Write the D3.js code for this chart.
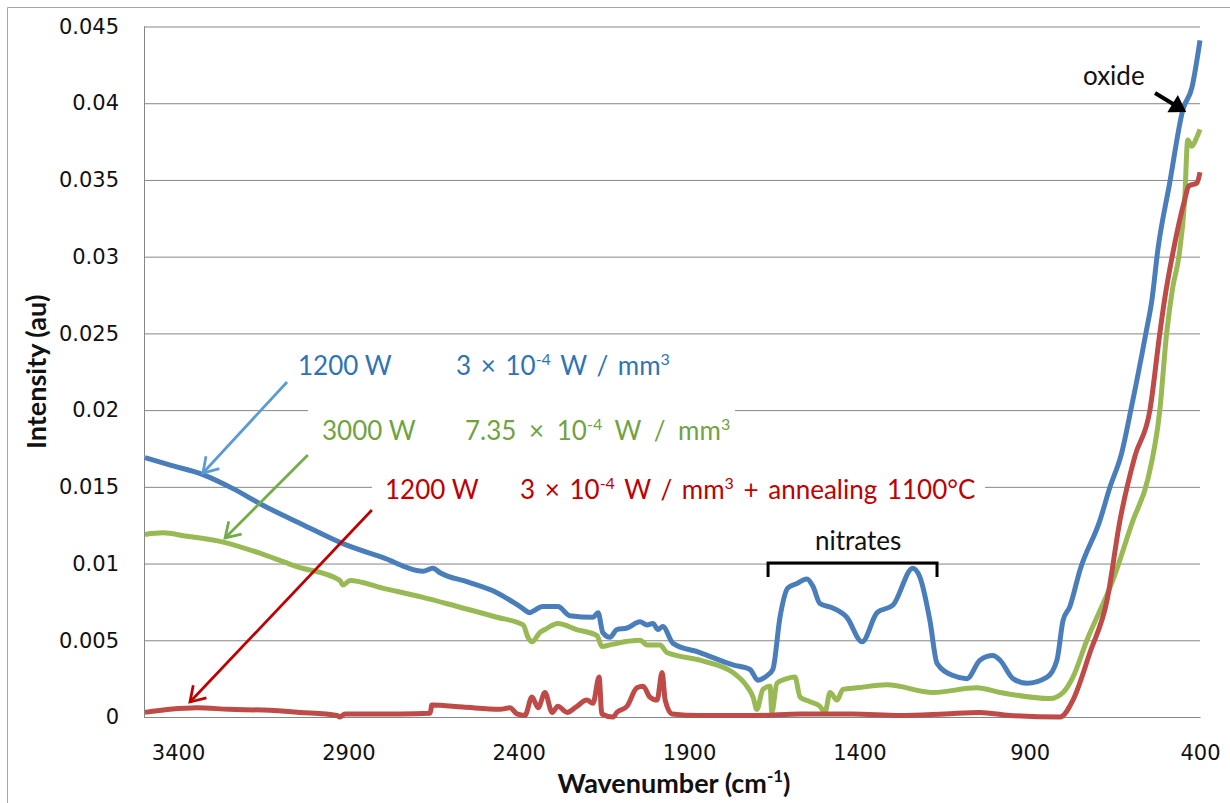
<!DOCTYPE html>
<html lang="en">
<head>
<meta charset="UTF-8">
<title>FTIR spectra</title>
<style>
  body { margin: 0; background: #fff; }
  svg { display: block; }
</style>
</head>
<body>
<script src="https://d3js.org/d3.v7.min.js"></script>
<script>
// ---- data (wavenumber cm-1, intensity au) ----
var blueWn  = [3497,3420,3327,3240,3151,3040,2916,2800,2681,2652,2631,2550,2464,2396,2367,2358,2329,2285,2250,2182,2167,2153,2132,2112,2082,2044,2023,2006,1991,1977,1947,1868,1771,1721,1698,1671,1654,1633,1610,1583,1554,1536,1516,1478,1437,1392,1348,1301,1243,1222,1193,1172,1125,1084,1046,1008,987,949,908,849,820,802,782,752,694,664,630,603,559,541,524,489,450,424,400];
var blueVal = [0.0169,0.0164,0.0158,0.0149,0.0138,0.0126,0.0113,0.0104,0.0095,0.0097,0.0094,0.0088,0.0081,0.0072,0.0068,0.0069,0.0072,0.0072,0.0066,0.0065,0.0068,0.0055,0.0052,0.0057,0.0058,0.0062,0.0060,0.0061,0.0057,0.0059,0.0048,0.0042,0.0034,0.0031,0.0024,0.0027,0.0031,0.0065,0.0084,0.0087,0.0090,0.0085,0.0074,0.0071,0.0065,0.0049,0.0068,0.0073,0.0097,0.0091,0.0063,0.0035,0.0027,0.0025,0.0037,0.0040,0.0037,0.0025,0.0022,0.0026,0.0037,0.0063,0.0072,0.0096,0.0128,0.0150,0.0172,0.0200,0.0250,0.0272,0.0304,0.0348,0.0396,0.0410,0.0441];

var greenWn  = [3497,3444,3380,3268,3150,3051,2925,2916,2895,2800,2681,2580,2464,2387,2373,2361,2338,2323,2285,2230,2170,2156,2132,2090,2044,2023,1985,1965,1868,1771,1730,1712,1701,1683,1662,1657,1642,1613,1589,1574,1545,1516,1501,1486,1466,1448,1407,1319,1184,1055,987,840,802,773,732,656,597,553,518,498,480,462,445,436,424,409,400];
var greenVal = [0.0119,0.0120,0.0118,0.0114,0.0106,0.0098,0.0089,0.0086,0.0089,0.0084,0.0078,0.0072,0.0065,0.0060,0.0052,0.0049,0.0055,0.0057,0.0061,0.0057,0.0053,0.0046,0.0047,0.0049,0.0050,0.0047,0.0047,0.0042,0.0037,0.0029,0.0020,0.0013,0.0005,0.0018,0.0020,0.0003,0.0022,0.0025,0.0026,0.0013,0.0010,0.0007,0.0003,0.0016,0.0011,0.0018,0.0019,0.0021,0.0016,0.0019,0.0016,0.0012,0.0016,0.0026,0.0050,0.0089,0.0128,0.0155,0.0200,0.0250,0.0280,0.0300,0.0337,0.0376,0.0372,0.0378,0.0383];

var redWn  = [3497,3424,3344,3250,3151,3042,2933,2925,2910,2749,2660,2655,2564,2455,2426,2405,2382,2361,2343,2323,2302,2285,2258,2229,2200,2182,2164,2156,2123,2112,2082,2053,2035,2015,1994,1979,1970,1950,1868,1700,1574,1420,1281,1150,1046,958,811,773,723,673,635,591,547,518,504,480,445,433,409,400];
var redVal = [0.0003,0.0005,0.0006,0.0005,0.00045,0.0003,0.0001,0.0000,0.0002,0.0002,0.00025,0.00078,0.00065,0.0005,0.0006,0.0002,0.0001,0.0013,0.0006,0.0016,0.0003,0.0007,0.0003,0.0007,0.0011,0.0009,0.0026,0.0002,0.0000,0.0003,0.0007,0.0019,0.0020,0.0013,0.0011,0.0029,0.0011,0.0002,0.0001,0.0001,0.0002,0.0002,0.0001,0.0002,0.0003,0.0001,0.0000,0.0011,0.0042,0.0076,0.0128,0.0170,0.0200,0.0250,0.0272,0.0302,0.0337,0.0346,0.0348,0.0355];

var xTicks = [3400, 2900, 2400, 1900, 1400, 900, 400];
var yTicks = [0, 0.005, 0.01, 0.015, 0.02, 0.025, 0.03, 0.035, 0.04, 0.045];
var yTickLabels = ["0", "0.005", "0.01", "0.015", "0.02", "0.025", "0.03", "0.035", "0.04", "0.045"];

var width = 1230, height = 803;
var padding = {left: 144, right: 30, top: 26.5, bottom: 86};

var svg = d3.select("body").append("svg").attr("width", width).attr("height", height);

// chart frame
svg.append("line").attr("x1", 7.5).attr("y1", 7.5).attr("x2", width).attr("y2", 7.5).attr("stroke", "#a6a6a6");
svg.append("line").attr("x1", 7.5).attr("y1", 7.5).attr("x2", 7.5).attr("y2", height).attr("stroke", "#a6a6a6");

var x = d3.scaleLinear().domain([3500, 400]).range([padding.left, width - padding.right]);
var y = d3.scaleLinear().domain([0, 0.045]).range([height - padding.bottom, padding.top]);

// y axis + gridlines
var yAxis = d3.axisLeft(y)
  .tickValues(yTicks)
  .tickSize(-(x.range()[1] - x.range()[0]))
  .tickPadding(25)
  .tickFormat(function(d, i){ return yTickLabels[i]; });

var gy = svg.append("g")
  .attr("transform", "translate(" + padding.left + ",0)")
  .call(yAxis);
gy.select(".domain").attr("stroke", "#868686").attr("d", "M0.5," + y(0.045) + "V" + y(0));
gy.selectAll(".tick line").attr("stroke", "#868686");
gy.selectAll(".tick text")
  .attr("font-family", "DejaVu Sans")
  .attr("font-size", 21)
  .attr("fill", "#111");

// x axis
var xAxis = d3.axisBottom(x).tickValues(xTicks).tickSize(0).tickFormat(d3.format("d"));
var gx = svg.append("g")
  .attr("transform", "translate(0," + y(0) + ")")
  .call(xAxis);
gx.select(".domain").attr("stroke", "#868686");
gx.selectAll(".tick text")
  .attr("font-family", "DejaVu Sans")
  .attr("font-size", 21)
  .attr("fill", "#111")
  .attr("y", 43)
  .attr("dy", 0);

// white label boxes (they hide gridlines behind the text)
svg.append("rect").attr("x", 308).attr("y", 400).attr("width", 427).attr("height", 56).attr("fill", "#fff");
svg.append("rect").attr("x", 372).attr("y", 466).attr("width", 613).attr("height", 40).attr("fill", "#fff");

// spectra
var line = d3.line()
  .x(function(d){ return x(d[0]); })
  .y(function(d){ return y(d[1]); })
  .curve(d3.curveMonotoneX);

var series = [
  {wn: greenWn, val: greenVal, color: "#98b954"},
  {wn: redWn, val: redVal, color: "#be4b48"},
  {wn: blueWn, val: blueVal, color: "#4a7ebb"}
];

svg.selectAll("path.spec")
  .data(series)
  .enter()
  .append("path")
  .attr("class", "spec")
  .attr("d", function(s){ return line(s.wn.map(function(w, i){ return [w, s.val[i]]; })); })
  .attr("fill", "none")
  .attr("stroke", function(s){ return s.color; })
  .attr("stroke-width", 5)
  .attr("stroke-linejoin", "round");

// ---- annotations ----
function arrow(x1, y1, x2, y2, color, w, filled, head) {
  var ang = Math.atan2(y2 - y1, x2 - x1);
  var a1 = ang + Math.PI * 0.82, a2 = ang - Math.PI * 0.82;
  svg.append("line")
    .attr("x1", x1).attr("y1", y1)
    .attr("x2", filled ? x2 - Math.cos(ang) * head * 0.8 : x2)
    .attr("y2", filled ? y2 - Math.sin(ang) * head * 0.8 : y2)
    .attr("stroke", color).attr("stroke-width", w);
  var p = "M" + (x2 + Math.cos(a1) * head) + "," + (y2 + Math.sin(a1) * head) +
          "L" + x2 + "," + y2 +
          "L" + (x2 + Math.cos(a2) * head) + "," + (y2 + Math.sin(a2) * head);
  svg.append("path")
    .attr("d", filled ? p + "Z" : p)
    .attr("fill", filled ? color : "none")
    .attr("stroke", color)
    .attr("stroke-width", w)
    .attr("stroke-linejoin", "miter");
}

arrow(x(3080), y(0.02183), x(3327), y(0.0159), "#5b9bd5", 2.75, false, 17);
arrow(x(3019), y(0.01707), x(3262), y(0.01167), "#70ad47", 2.75, false, 17);
arrow(x(2831), y(0.01349), x(3365), y(0.00098), "#c00000", 2.75, false, 17);
arrow(x(532), y(0.04067), x(450), y(0.03956), "#000", 4, true, 12);

function label(px, py, parts, color, ws) {
  var t = svg.append("text")
    .attr("x", px).attr("y", py)
    .attr("font-family", "Lato")
    .attr("font-size", 26)
    .attr("word-spacing", ws || 0)
    .attr("fill", color);
  parts.forEach(function(p){
    var s = t.append("tspan").text(p.t);
    if (p.sup) s.attr("font-size", 16).attr("dy", -10);
    if (p.back) s.attr("dy", 10);
  });
}

label(298, 375, [{t: "1200 W"}], "#2e74b5");
label(456, 375, [{t: "3 \u00d7 10"}, {t: "-4", sup: true}, {t: " W / mm", back: true}, {t: "3", sup: true}], "#2e74b5", 3);

label(322, 440, [{t: "3000 W"}], "#70a33f");
label(465, 440, [{t: "7.35 \u00d7 10"}, {t: "-4", sup: true}, {t: " W / mm", back: true}, {t: "3", sup: true}], "#70a33f", 6);

label(385, 499, [{t: "1200 W"}], "#c00000");
label(520, 499, [{t: "3 \u00d7 10"}, {t: "-4", sup: true}, {t: " W / mm", back: true}, {t: "3", sup: true}, {t: " + annealing 1100\u00b0C", back: true}], "#c00000", 3);

label(1083, 85, [{t: "oxide"}], "#111");
label(815, 550, [{t: "nitrates"}], "#111");

// nitrates bracket
svg.append("path")
  .attr("d", "M" + x(1668) + "," + y(0.00912) + "V" + y(0.01004) + "H" + x(1172) + "V" + y(0.00912))
  .attr("fill", "none")
  .attr("stroke", "#000")
  .attr("stroke-width", 3);

// axis titles
svg.append("text")
  .attr("x", 674).attr("y", 793)
  .attr("text-anchor", "middle")
  .attr("font-family", "Lato")
  .attr("font-weight", "bold")
  .attr("font-size", 27)
  .attr("fill", "#111")
  .html('Wavenumber (cm<tspan font-size="17" dy="-11">-1</tspan><tspan dy="11">)</tspan>');

svg.append("text")
  .attr("transform", "translate(46," + ((y(0) + y(0.045)) / 2) + ") rotate(-90)")
  .attr("text-anchor", "middle")
  .attr("font-family", "Lato")
  .attr("font-weight", "bold")
  .attr("font-size", 27)
  .attr("fill", "#111")
  .text("Intensity (au)");
</script>
</body>
</html>
